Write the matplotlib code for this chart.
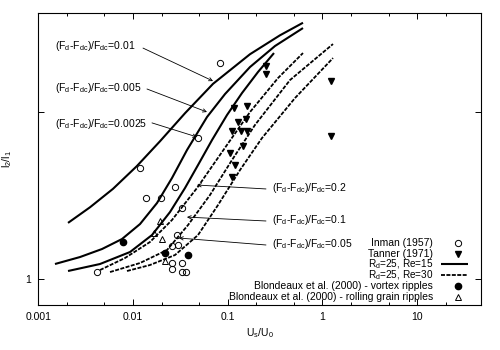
import matplotlib
matplotlib.use('Agg')
import matplotlib.pyplot as plt
from matplotlib.lines import Line2D

plt.rcParams['font.family'] = ['Liberation Sans', 'DejaVu Sans']
plt.rcParams['mathtext.default'] = 'regular'

# ---------------- data ----------------
x_ticks = [0.001, 0.01, 0.1, 1, 10]
x_tick_labels = ['0.001', '0.01', '0.1', '1', '10']
x_minor = [0.002, 0.005, 0.02, 0.05, 0.2, 0.5, 2, 5, 20]
y_ticks = [1, 10]
y_tick_labels = ['1', '']

# Re=15 (solid)
s1_x = [0.00206, 0.00352, 0.00615, 0.0110, 0.0193, 0.0354, 0.070, 0.172, 0.356, 0.624]
s1_y = [2.17, 2.691, 3.465, 4.738, 6.662, 9.783, 14.65, 22.00, 28.51, 33.89]
s2_x = [0.00150, 0.002756, 0.004707, 0.007652, 0.01186, 0.01792, 0.0258, 0.03717, 0.06046, 0.09366, 0.172, 0.3158, 0.624]
s2_y = [1.234, 1.358, 1.516, 1.739, 2.136, 2.851, 4.018, 5.902, 9.287, 12.73, 18.45, 24.62, 31.51]
s3_x = [0.00206, 0.00448, 0.00930, 0.01587, 0.02459, 0.0354, 0.0486, 0.0683, 0.0983, 0.1416, 0.2089, 0.3083]
s3_y = [1.121, 1.234, 1.455, 1.837, 2.519, 3.503, 4.804, 6.77, 9.543, 12.91, 17.23, 22.36]

# Re=30 (dashed)
d1_x = [0.00448, 0.00823, 0.0151, 0.0258, 0.0474, 0.0871, 0.172, 0.340, 0.624]
d1_y = [1.136, 1.340, 1.669, 2.258, 3.503, 5.743, 9.945, 15.86, 22.36]
d2_x = [0.00572, 0.01186, 0.02286, 0.0381, 0.0650, 0.111, 0.194, 0.455, 1.294]
d2_y = [1.105, 1.251, 1.495, 2.107, 3.182, 5.145, 8.322, 15.43, 25.30]
d3_x = [0.00864, 0.0151, 0.02777, 0.0486, 0.0790, 0.1349, 0.2303, 0.5137, 1.294]
d3_y = [1.121, 1.217, 1.396, 1.837, 2.773, 4.485, 6.961, 12.05, 20.87]

inman_x = [0.083, 0.0486, 0.0119, 0.0137, 0.0277, 0.0199, 0.0329, 0.0292, 0.0300, 0.0258,
           0.00417, 0.0258, 0.0329, 0.0258, 0.0329, 0.0363]
inman_y = [19.5, 6.96, 4.61, 3.05, 3.55, 3.05, 2.66, 1.84, 1.60, 1.58,
           1.105, 1.25, 1.25, 1.15, 1.105, 1.105]
tanner_x = [0.254, 0.254, 1.23, 1.23, 0.117, 0.160, 0.128, 0.156, 0.111, 0.138, 0.160,
            0.145, 0.106, 0.119, 0.111]
tanner_y = [18.7, 16.8, 15.2, 7.16, 10.5, 10.8, 8.67, 9.03, 7.66, 7.66, 7.66,
            6.24, 5.66, 4.81, 4.07]
vortex_x = [0.00785, 0.0218, 0.0381]
vortex_y = [1.67, 1.435, 1.40]
rolling_x = [0.0193, 0.0202, 0.0167, 0.0218]
rolling_y = [2.23, 1.74, 1.89, 1.285]

curve_labels = ['(F$_d$-F$_{dc}$)/F$_{dc}$=0.01', '(F$_d$-F$_{dc}$)/F$_{dc}$=0.005',
                '(F$_d$-F$_{dc}$)/F$_{dc}$=0.0025', '(F$_d$-F$_{dc}$)/F$_{dc}$=0.2',
                '(F$_d$-F$_{dc}$)/F$_{dc}$=0.1', '(F$_d$-F$_{dc}$)/F$_{dc}$=0.05']
arrow_tip_x = [0.0700, 0.0604, 0.0474, 0.0474, 0.0371, 0.0306]
arrow_tip_y = [15.22, 9.95, 7.06, 3.65, 2.35, 1.763]

legend_labels = ['Inman (1957)', 'Tanner (1971)', 'R$_d$=25, Re=15', 'R$_d$=25, Re=30',
                 'Blondeaux et al. (2000) - vortex ripples',
                 'Blondeaux et al. (2000) - rolling grain ripples']

# ---------------- figure ----------------
fig = plt.figure(figsize=(5, 3.5), dpi=100)
ax = fig.add_axes([0.0766, 0.1286, 0.8854, 0.8351])
ax.set_xscale('log')
ax.set_yscale('log')
ax.set_xlim(0.001, 47.3)
ax.set_ylim(0.703, 38.9)

solid = dict(color='black', lw=1.5, solid_capstyle='butt', solid_joinstyle='round')
dashed = dict(color='black', lw=1.3, linestyle=(0, (2.2, 0.8)))
for xs, ys in [(s1_x, s1_y), (s2_x, s2_y), (s3_x, s3_y)]:
    ax.plot(xs, ys, **solid)
for xs, ys in [(d1_x, d1_y), (d2_x, d2_y), (d3_x, d3_y)]:
    ax.plot(xs, ys, **dashed)

ax.plot(inman_x, inman_y, 'o', ls='none', mfc='none', mec='black', ms=4.5, mew=0.7)
ax.plot(tanner_x, tanner_y, 'v', ls='none', mfc='black', mec='black', ms=4.5)
ax.plot(vortex_x, vortex_y, 'o', ls='none', mfc='black', mec='black', ms=4.5)
ax.plot(rolling_x, rolling_y, '^', ls='none', mfc='none', mec='black', ms=4.5, mew=0.7)

# annotations
text_pos = [(0.0377, 0.886), (0.0377, 0.742), (0.0377, 0.619),
            (0.528, 0.400), (0.528, 0.291), (0.528, 0.209)]
arrow_start = [(0.2365, 0.879), (0.2455, 0.739), (0.2568, 0.623),
               (0.5143, 0.397), (0.5143, 0.2874), (0.5143, 0.2053)]
for lab, (tx, ty), (sx, sy), ax_, ay_ in zip(curve_labels, text_pos, arrow_start,
                                             arrow_tip_x, arrow_tip_y):
    ax.text(tx, ty, lab, transform=ax.transAxes, fontsize=7.5, ha='left', va='center')
    ax.annotate('', xy=(ax_, ay_), xycoords='data', xytext=(sx, sy),
                textcoords='axes fraction',
                arrowprops=dict(arrowstyle='->', lw=0.6, color='black',
                                shrinkA=0, shrinkB=0, mutation_scale=6))

# manual legend (right-aligned text, symbol at right)
leg_y = [0.213, 0.175, 0.139, 0.101, 0.064, 0.027]
leg_fs = [7.5, 7.5, 7.2, 7.2, 7.5, 7.5]
txt_x = 0.8915
sym_x = 0.948
for lab, yy, fs in zip(legend_labels, leg_y, leg_fs):
    ax.text(txt_x, yy, lab, transform=ax.transAxes, fontsize=fs, ha='right', va='center')
ax.add_line(Line2D([sym_x], [leg_y[0]], transform=ax.transAxes, marker='o', mfc='none',
                   mec='black', ms=4.5, mew=0.7, ls='none'))
ax.add_line(Line2D([sym_x], [leg_y[1]], transform=ax.transAxes, marker='v', mfc='black',
                   mec='black', ms=4.5, ls='none'))
ax.add_line(Line2D([0.9097, 0.9705], [leg_y[2], leg_y[2]], transform=ax.transAxes, **solid))
ax.add_line(Line2D([0.9097, 0.9705], [leg_y[3], leg_y[3]], transform=ax.transAxes, **dashed))
ax.add_line(Line2D([sym_x], [leg_y[4]], transform=ax.transAxes, marker='o', mfc='black',
                   mec='black', ms=4.5, ls='none'))
ax.add_line(Line2D([sym_x], [leg_y[5]], transform=ax.transAxes, marker='^', mfc='none',
                   mec='black', ms=4.5, mew=0.7, ls='none'))

# ticks
ax.set_xticks(x_ticks)
ax.set_xticklabels(x_tick_labels)
ax.set_xticks(x_minor, minor=True)
ax.set_xticklabels([''] * len(x_minor), minor=True)
ax.set_yticks(y_ticks)
ax.set_yticklabels(y_tick_labels)
ax.set_yticks([], minor=True)
ax.tick_params(which='both', direction='in', top=True, right=True, labelsize=7.5,
               width=0.7, pad=5)
ax.tick_params(which='major', length=4)
ax.tick_params(which='minor', length=2.5)
for sp in ax.spines.values():
    sp.set_linewidth(0.8)

ax.set_xlabel('U$_s$/U$_0$', fontsize=7.5, labelpad=3)
ax.set_ylabel('l$_2$/l$_1$', fontsize=7.5)
ax.yaxis.set_label_coords(-0.056, 0.5)

fig.savefig('out.png', dpi=100)
